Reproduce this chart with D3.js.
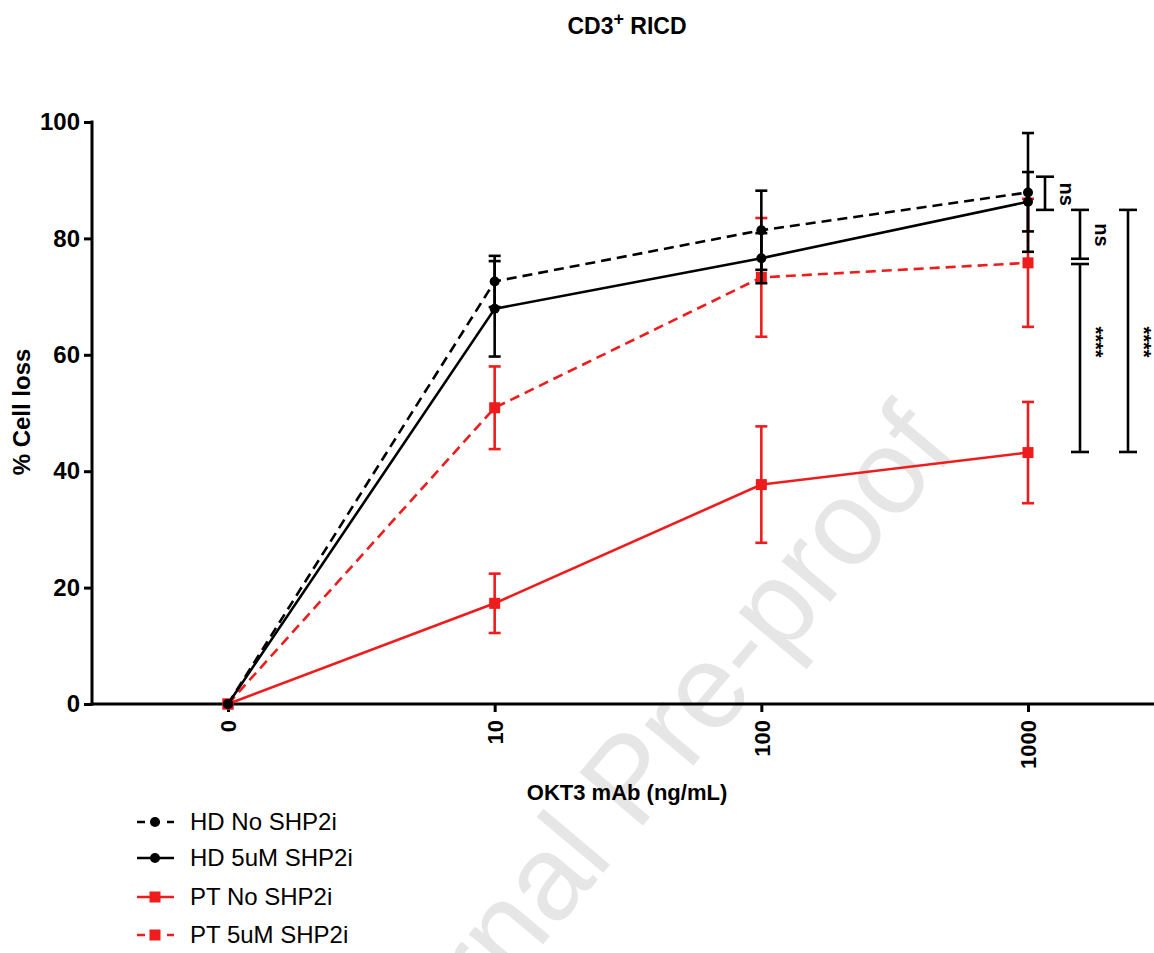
<!DOCTYPE html>
<html>
<head>
<meta charset="utf-8">
<script src="https://cdn.jsdelivr.net/npm/d3@7"></script>
<style>
  html, body { margin: 0; padding: 0; background: #fff; }
  svg { display: block; font-family: "Liberation Sans", Arial, sans-serif; }
</style>
</head>
<body>
<svg id="chart" width="1154" height="953"></svg>
<script>
// ---------- data ----------
const categories = ["0", "10", "100", "1000"];
const yTicks = [0, 20, 40, 60, 80, 100];

const hdNoMean  = [0, 72.6, 81.4, 87.9];
const hdNoSem   = [0, 4.4, 6.8, 10.2];
const hd5Mean   = [0, 67.9, 76.6, 86.3];
const hd5Sem    = [0, 8.2, 4.3, 5.1];
const ptNoMean  = [0, 17.3, 37.7, 43.2];
const ptNoSem   = [0, 5.1, 10.0, 8.7];
const pt5Mean   = [0, 50.9, 73.3, 75.8];
const pt5Sem    = [0, 7.1, 10.2, 11.0];

const seriesNames = ["HD No SHP2i", "HD 5uM SHP2i", "PT No SHP2i", "PT 5uM SHP2i"];

// significance brackets (values in % units)
const sigLow    = [84.9, 76.5, 43.3, 43.3];
const sigHigh   = [90.6, 84.9, 75.6, 84.9];
const sigLabels = ["ns", "ns", "****", "****"];
const sigLabelAt = [87.6, 80.6, 62.2, 62.2];

// ---------- layout ----------
const svg = d3.select("#chart");
const font = '"Liberation Sans", Arial, sans-serif';

const x = d3.scaleLinear().domain([0, 3]).range([228, 1028]);
const y = d3.scaleLinear().domain([0, 100]).range([704, 122]);
const axisLeftX = 92;
const axisRightX = 1154;

// watermark
svg.append("text")
  .attr("transform", "translate(660,805) rotate(-50)")
  .attr("text-anchor", "middle")
  .attr("font-size", 120)
  .attr("fill", "#e6e6e6")
  .text("Journal Pre-proof");

// title
const title = svg.append("text")
  .attr("x", 627).attr("y", 34)
  .attr("text-anchor", "middle")
  .attr("font-size", 23).attr("font-weight", "bold");
title.append("tspan").text("CD3");
title.append("tspan").attr("dy", -9).attr("font-size", 18).text("+");
title.append("tspan").attr("dy", 9).text(" RICD");

// y axis
const yAxis = d3.axisLeft(y).tickValues(yTicks).tickSize(8).tickPadding(4);
const gy = svg.append("g").attr("transform", `translate(${axisLeftX},0)`).call(yAxis);
gy.select(".domain").remove();
gy.selectAll(".tick line").attr("stroke", "#000").attr("stroke-width", 3);
gy.selectAll(".tick text")
  .attr("font-size", 24).attr("font-weight", "bold").attr("font-family", font).attr("fill", "#000");
svg.append("line")
  .attr("x1", axisLeftX).attr("x2", axisLeftX)
  .attr("y1", y(100) - 1.5).attr("y2", y(0) + 1.5)
  .attr("stroke", "#000").attr("stroke-width", 3);

// x axis
const xAxis = d3.axisBottom(x).tickValues([0, 1, 2, 3]).tickFormat(i => categories[i]).tickSize(8).tickPadding(6);
const gx = svg.append("g").attr("transform", `translate(0,${y(0)})`).call(xAxis);
gx.select(".domain").remove();
gx.selectAll(".tick line").attr("stroke", "#000").attr("stroke-width", 3);
gx.selectAll(".tick text")
  .attr("font-size", 22).attr("font-weight", "bold").attr("font-family", font).attr("fill", "#000")
  .attr("transform", "rotate(-90)")
  .attr("text-anchor", "end")
  .attr("dy", "0.35em")
  .attr("x", -16).attr("y", 0);
svg.append("line")
  .attr("x1", axisLeftX - 1.5).attr("x2", axisRightX)
  .attr("y1", y(0)).attr("y2", y(0))
  .attr("stroke", "#000").attr("stroke-width", 3);

// axis titles
svg.append("text")
  .attr("transform", "translate(30,412) rotate(-90)")
  .attr("text-anchor", "middle")
  .attr("font-size", 24).attr("font-weight", "bold")
  .text("% Cell loss");
svg.append("text")
  .attr("x", 627).attr("y", 800)
  .attr("text-anchor", "middle")
  .attr("font-size", 22).attr("font-weight", "bold")
  .text("OKT3 mAb (ng/mL)");

// ---------- series ----------
const series = [
  { name: seriesNames[0], mean: hdNoMean, sem: hdNoSem, color: "#000", dashed: true,  marker: "circle" },
  { name: seriesNames[1], mean: hd5Mean,  sem: hd5Sem,  color: "#000", dashed: false, marker: "circle" },
  { name: seriesNames[2], mean: ptNoMean, sem: ptNoSem, color: "#ee1c1c", dashed: false, marker: "square" },
  { name: seriesNames[3], mean: pt5Mean,  sem: pt5Sem,  color: "#ee1c1c", dashed: true,  marker: "square" }
];
const drawOrder = [2, 3, 1, 0];
const dash = "10,6";
const line = d3.line().x((d, i) => x(i)).y(d => y(d));

function drawMarker(g, type, cx, cy, color) {
  if (type === "circle") {
    g.append("circle").attr("cx", cx).attr("cy", cy).attr("r", 5).attr("fill", color);
  } else {
    g.append("rect").attr("x", cx - 5.5).attr("y", cy - 5.5).attr("width", 11).attr("height", 11).attr("fill", color);
  }
}

drawOrder.forEach(k => {
  const s = series[k];
  const g = svg.append("g");
  g.append("path")
    .attr("d", line(s.mean))
    .attr("fill", "none")
    .attr("stroke", s.color)
    .attr("stroke-width", 2.6)
    .attr("stroke-dasharray", s.dashed ? dash : null);
  s.mean.forEach((m, i) => {
    if (s.sem[i] > 0) {
      const top = y(m + s.sem[i]), bot = y(m - s.sem[i]);
      g.append("line").attr("x1", x(i)).attr("x2", x(i)).attr("y1", top).attr("y2", bot)
        .attr("stroke", s.color).attr("stroke-width", 2.6);
      [top, bot].forEach(v => {
        g.append("line").attr("x1", x(i) - 6).attr("x2", x(i) + 6).attr("y1", v).attr("y2", v)
          .attr("stroke", s.color).attr("stroke-width", 2.6);
      });
    }
    drawMarker(g, s.marker, x(i), y(m), s.color);
  });
});

// ---------- significance brackets ----------
const sigOffsets = [17, 52, 52, 100];
const sigG = svg.append("g");
sigLabels.forEach((lab, i) => {
  const bx = x(3) + sigOffsets[i];
  const y1 = y(sigHigh[i]), y2 = y(sigLow[i]);
  sigG.append("line").attr("x1", bx).attr("x2", bx).attr("y1", y1).attr("y2", y2)
    .attr("stroke", "#000").attr("stroke-width", 2.6);
  [y1, y2].forEach(v => {
    sigG.append("line").attr("x1", bx - 9).attr("x2", bx + 9).attr("y1", v).attr("y2", v)
      .attr("stroke", "#000").attr("stroke-width", 2.6);
  });
  const isNs = lab === "ns";
  if (isNs) {
    sigG.append("text")
      .attr("transform", `translate(${bx + 15},${y(sigLabelAt[i])}) rotate(90)`)
      .attr("text-anchor", "middle")
      .attr("font-size", 20)
      .attr("font-weight", "bold")
      .text(lab);
  } else {
    sigG.append("text")
      .attr("transform", `translate(${bx + 9},${y(sigLabelAt[i])}) rotate(90)`)
      .attr("text-anchor", "middle")
      .attr("font-size", 20)
      .attr("font-weight", "bold")
      .text(lab);
  }
});

// ---------- legend ----------
const legendRows = [822, 858, 897, 935];
const legG = svg.append("g");
series.forEach((s, i) => {
  const ly = legendRows[i];
  legG.append("line").attr("x1", 137).attr("x2", 174).attr("y1", ly).attr("y2", ly)
    .attr("stroke", s.color).attr("stroke-width", 2.6)
    .attr("stroke-dasharray", s.dashed ? "8,7" : null);
  drawMarker(legG, s.marker, 155, ly, s.color);
  legG.append("text")
    .attr("x", 190).attr("y", ly).attr("dy", "0.35em")
    .attr("font-size", 24)
    .attr("fill", "#000")
    .text(s.name);
});
</script>
</body>
</html>
